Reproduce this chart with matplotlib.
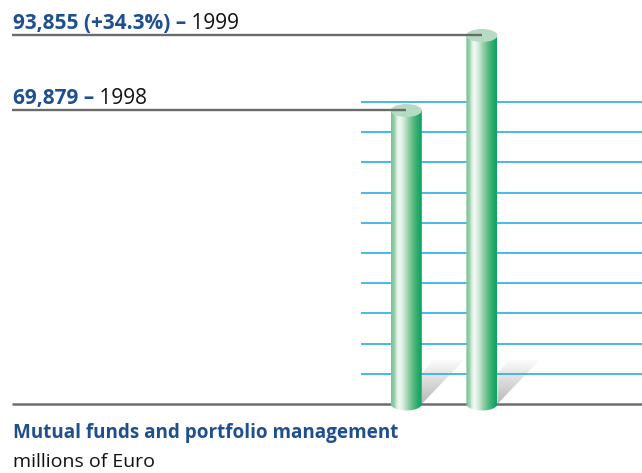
import numpy as np
import matplotlib
matplotlib.use('Agg')
import matplotlib.pyplot as plt
from matplotlib.patches import Ellipse, Polygon
from matplotlib.colors import LinearSegmentedColormap

# ---------------- data ----------------
years = ['1998', '1999']
values = [69879, 93855]
value_labels = ['69,879 –', '93,855 (+34.3%) –']
title = 'Mutual funds and portfolio management'
subtitle = 'millions of Euro'

# ---------------- style ----------------
W, H = 642, 473
BLUE = '#1f4f8f'
FONT = 'Open Sans'
plt.rcParams['font.family'] = [FONT, 'DejaVu Sans']

fig = plt.figure(figsize=(W / 100, H / 100), dpi=100)

# axes: pixel x 12..642, pixel y 0..420 (from top)
ax_px = (12, 642, 0, 420)
ax = fig.add_axes([ax_px[0] / W, 1 - ax_px[3] / H,
                   (ax_px[1] - ax_px[0]) / W, (ax_px[3] - ax_px[2]) / H])
ax.axis('off')

# scale (values per pixel) and limits
upp_y = 319.7
y_top = 105200
ax.set_ylim(y_top - 420 * upp_y, y_top)
base = y_top - 404 * upp_y            # value at the grey baseline
upp_x = 1 / 75.6
x_left = -(406.3 - 12) * upp_x
ax.set_xlim(x_left, x_left + 630 * upp_x)
xs = np.arange(len(values))

bw = 31 * upp_x          # cylinder width
eh = 13 * upp_y          # ellipse height

# grid lines
grid_y = base + np.arange(1, 11) * 30.2 * upp_y
ax.hlines(grid_y, x_left + (361 - 12) * upp_x, x_left + 630 * upp_x,
          colors='#3ab2e8', lw=1.3, zorder=2)
# baseline
ax.hlines(base, x_left, x_left + 630 * upp_x, colors='#6e6e6e', lw=1.8, zorder=2)

cyl_cmap = LinearSegmentedColormap.from_list('cyl', [
    (0.00, '#72c193'), (0.12, '#9ed3b1'), (0.18, '#d6eddd'), (0.26, '#f1f8f3'),
    (0.34, '#e6f3ea'), (0.44, '#c4e4ce'), (0.54, '#9dd3ae'), (0.64, '#78c496'),
    (0.74, '#52b67c'), (0.86, '#2aab6b'), (1.00, '#0ba262')])
shadow_cmap = LinearSegmentedColormap.from_list('sh', ['#b8b8b8', '#fbfbfb'])

for x, v in zip(xs, values):
    xl, xr = x - bw / 2, x + bw / 2
    # shadow
    sh = Polygon([(xr, base + 31 * upp_y), (xr + 12 * upp_x, base + 44 * upp_y),
                  (xr + 42 * upp_x, base + 44 * upp_y), (xr, base)],
                 closed=True, facecolor='none', edgecolor='none')
    ax.add_patch(sh)
    im = ax.imshow(np.linspace(0, 1, 64).reshape(-1, 1), cmap=shadow_cmap,
                   extent=[xr, xr + 42 * upp_x, base, base + 44 * upp_y],
                   origin='lower', aspect='auto', zorder=1, interpolation='bilinear')
    im.set_clip_path(sh)
    # cylinder body
    t = np.linspace(np.pi, 2 * np.pi, 60)
    pts = [(xl, v), (xl, base)] + [(x + bw / 2 * np.cos(a), base + eh / 2 * np.sin(a)) for a in t] + [(xr, v)]
    body = Polygon(pts, closed=True, facecolor='none', edgecolor='none')
    ax.add_patch(body)
    im2 = ax.imshow(np.linspace(0, 1, 128).reshape(1, -1), cmap=cyl_cmap,
                    extent=[xl, xr, base - eh, v], origin='lower', aspect='auto',
                    zorder=3, interpolation='bilinear')
    im2.set_clip_path(body)
    # top
    ax.add_patch(Ellipse((x, v), bw, eh, facecolor='#b5dcc2', edgecolor='none', zorder=4))
    # leader line
    ax.plot([x_left, x], [v, v], color='#6b6b6b', lw=1.7, zorder=5, solid_capstyle='butt')

for x, v, lab, yr in zip(xs, values, value_labels, years):
    t1 = ax.annotate(lab, xy=(x_left, v), xytext=(1, 6), textcoords='offset pixels',
                     fontsize=15, fontweight='bold', color=BLUE, va='baseline', ha='left')
    ax.annotate(' ' + yr, xy=(1, 0), xycoords=t1, fontsize=15, color='#111111',
                va='bottom', ha='left')

fig.text(13 / W, 1 - 438 / H, title, fontsize=13.6, fontweight='bold', color=BLUE,
         va='baseline', ha='left')
fig.text(13 / W, 1 - 467 / H, subtitle, fontsize=14, color='#111111',
         va='baseline', ha='left')

fig.savefig('out.png', dpi=100)
